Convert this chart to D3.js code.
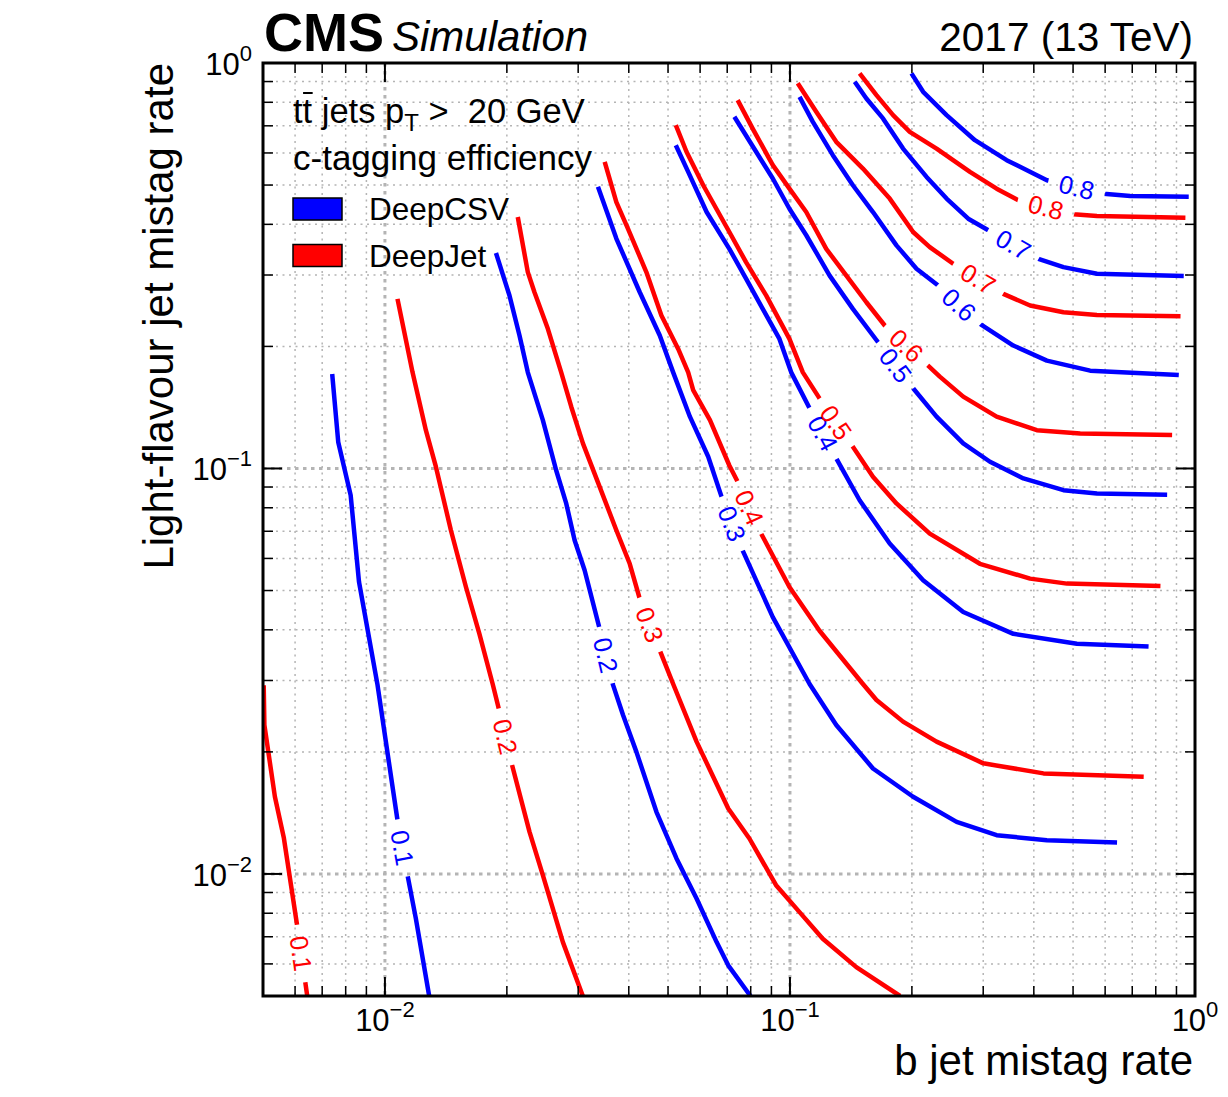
<!DOCTYPE html>
<html>
<head>
<meta charset="utf-8">
<script src="https://cdn.jsdelivr.net/npm/d3@7"></script>
<style>
  body { margin: 0; background: #fff; }
  text { font-family: "Liberation Sans", Arial, Helvetica, sans-serif; white-space: pre; }
</style>
</head>
<body>
<svg id="chart" width="1228" height="1097"></svg>
<script>
// Iso-efficiency contours: [b mistag rate, light mistag rate] along each curve.
const levels = [0.1, 0.2, 0.3, 0.4, 0.5, 0.6, 0.7, 0.8];

const csv01 = [[0.00741,0.171],[0.00767,0.116],[0.00823,0.0859],[0.00863,0.0525],[0.00958,0.0294],[0.01014,0.0200],[0.01074,0.01357],[0.01137,0.00993],[0.01192,0.00777],[0.01286,0.005]];
const csv02 = [[0.0188,0.340],[0.0203,0.267],[0.02149,0.2128],[0.02253,0.1726],[0.02454,0.1316],[0.02647,0.099],[0.02803,0.082],[0.0294,0.0665],[0.03112,0.0561],[0.0339,0.0402],[0.03657,0.02926],[0.03871,0.02466],[0.04177,0.0200],[0.0468,0.01423],[0.05246,0.01092],[0.0588,0.0087],[0.0659,0.00679],[0.0704,0.00595],[0.0799,0.005]];
const csv03 = [[0.03357,0.495],[0.03727,0.369],[0.04258,0.272],[0.04771,0.2128],[0.05148,0.1726],[0.05662,0.1342],[0.06284,0.1069],[0.0678,0.0851],[0.0764,0.0628],[0.0907,0.043],[0.1118,0.0294],[0.1301,0.0233],[0.1603,0.0182],[0.2014,0.0155],[0.2579,0.01344],[0.3238,0.01246],[0.4308,0.01211],[0.642,0.01196]];
const csv04 = [[0.05226,0.627],[0.05607,0.539],[0.06226,0.429],[0.07085,0.348],[0.0779,0.294],[0.08566,0.2475],[0.0942,0.2087],[0.1007,0.1726],[0.1118,0.1407],[0.1301,0.1059],[0.1486,0.0835],[0.1763,0.0653],[0.2132,0.053],[0.2678,0.04425],[0.356,0.0391],[0.511,0.03694],[0.768,0.03638]];
const csv05 = [[0.0729,0.737],[0.0825,0.604],[0.0907,0.519],[0.0997,0.437],[0.1097,0.376],[0.1253,0.299],[0.143,0.2475],[0.165,0.2048],[0.2014,0.1577],[0.2301,0.1342],[0.2678,0.1153],[0.3118,0.1039],[0.377,0.0945],[0.4734,0.0884],[0.5727,0.0867],[0.8535,0.0861]];
const csv06 = [[0.1056,0.825],[0.1139,0.716],[0.1276,0.5925],[0.143,0.4995],[0.1603,0.429],[0.1832,0.355],[0.2053,0.311],[0.2322,0.2828],[0.2945,0.2273],[0.356,0.201],[0.4308,0.1845],[0.551,0.1743],[0.912,0.170]];
const csv07 = [[0.1445,0.899],[0.1544,0.8175],[0.1697,0.730],[0.1902,0.615],[0.2174,0.5236],[0.2436,0.463],[0.2755,0.413],[0.3088,0.3867],[0.4106,0.329],[0.4734,0.3138],[0.5727,0.3021],[0.938,0.2982]];
const csv08 = [[0.1995,0.943],[0.2132,0.849],[0.2436,0.744],[0.2862,0.645],[0.3428,0.576],[0.4308,0.514],[0.5947,0.4762],[0.6922,0.470],[0.965,0.468]];

const jet01 = [[0.00502,0.0292],[0.00504,0.0233],[0.00535,0.0155],[0.00563,0.01226],[0.00607,0.00747],[0.00636,0.0054],[0.00643,0.005]];
const jet02 = [[0.01074,0.262],[0.0117,0.1726],[0.01262,0.1243],[0.01336,0.101],[0.01455,0.0704],[0.01585,0.051],[0.01711,0.0391],[0.01845,0.0294],[0.01909,0.02563],[0.0206,0.01856],[0.02275,0.0127],[0.02454,0.00993],[0.0275,0.00679],[0.0308,0.005]];
const jet03 = [[0.02128,0.417],[0.02253,0.305],[0.0234,0.272],[0.02525,0.221],[0.02724,0.1726],[0.02884,0.142],[0.03082,0.1153],[0.0339,0.0901],[0.03727,0.0704],[0.04022,0.0582],[0.04258,0.0477],[0.04771,0.0356],[0.05148,0.0294],[0.0588,0.0212],[0.0704,0.0145],[0.0794,0.01223],[0.0924,0.00938],[0.1056,0.00805],[0.1205,0.00692],[0.1458,0.00589],[0.187,0.005]];
const jet04 = [[0.03488,0.570],[0.03727,0.454],[0.03983,0.390],[0.0442,0.305],[0.04815,0.2384],[0.05297,0.1971],[0.05607,0.1726],[0.05769,0.1561],[0.06346,0.1316],[0.07085,0.1017],[0.07428,0.0927],[0.08486,0.0691],[0.0997,0.051],[0.1183,0.0398],[0.1514,0.0294],[0.1635,0.02686],[0.1902,0.02375],[0.2301,0.0212],[0.3001,0.01874],[0.4225,0.0177],[0.747,0.01736]];
const jet05 = [[0.05226,0.703],[0.05553,0.604],[0.06107,0.4995],[0.07085,0.383],[0.0779,0.3228],[0.08733,0.2672],[0.0997,0.2087],[0.1076,0.1726],[0.1183,0.1489],[0.143,0.1131],[0.1603,0.0954],[0.1832,0.082],[0.2214,0.0691],[0.2944,0.0582],[0.3916,0.0535],[0.4828,0.052],[0.8217,0.0513]];
const jet06 = [[0.07428,0.810],[0.0809,0.689],[0.0907,0.560],[0.0997,0.490],[0.1097,0.429],[0.1229,0.348],[0.1378,0.299],[0.1544,0.257],[0.1714,0.2252],[0.2193,0.1794],[0.2344,0.1685],[0.2678,0.1504],[0.3238,0.1342],[0.4068,0.1243],[0.5207,0.122],[0.878,0.1209]];
const jet07 = [[0.1045,0.891],[0.1161,0.758],[0.1301,0.639],[0.1514,0.549],[0.1763,0.463],[0.2014,0.383],[0.2214,0.3516],[0.2529,0.3198],[0.3363,0.2696],[0.3916,0.2523],[0.4734,0.2429],[0.5727,0.2392],[0.921,0.2374]];
const jet08 = [[0.1486,0.943],[0.1635,0.8335],[0.1797,0.7437],[0.1976,0.6764],[0.2301,0.6152],[0.2782,0.5387],[0.3238,0.4898],[0.3664,0.4586],[0.5012,0.4236],[0.5727,0.4195],[0.947,0.4155]];

// Where each contour carries its inline level label.
const csvLabelAt = [[0.01105,0.0116],[0.03533,0.0347],[0.072,0.0731],[0.1205,0.122],[0.1823,0.1797],[0.2616,0.2535],[0.356,0.3567],[0.5105,0.4946]];
const jetLabelAt = [[0.00625,0.00637],[0.01984,0.0218],[0.04508,0.0412],[0.0794,0.0801],[0.1301,0.130],[0.1939,0.201],[0.2916,0.2937],[0.4285,0.4407]];

const taggers = ["DeepCSV", "DeepJet"];
const taggerColors = ["#0000ff", "#ff0000"];
const xMajorTicks = [0.01, 0.1, 1];
const yMajorTicks = [1, 0.1, 0.01];
const majorExponents = ["\u22122", "\u22121", "0"];

const csvCurves = [csv01, csv02, csv03, csv04, csv05, csv06, csv07, csv08];
const jetCurves = [jet01, jet02, jet03, jet04, jet05, jet06, jet07, jet08];

// ---------------------------------------------------------------------------
const svg = d3.select("#chart");
const plot = { left: 263, right: 1195, top: 63, bottom: 996 };

const x = d3.scaleLog().domain([0.005, 1]).range([plot.left, plot.right]);
const y = d3.scaleLog().domain([0.005, 1]).range([plot.bottom, plot.top]);

// minor decade steps 2..9 inside the domain
const minorTicks = [];
[-3, -2, -1].forEach(k => {
  for (let m = 2; m <= 9; m++) {
    const v = +(m * Math.pow(10, k)).toPrecision(3);
    if (v > 0.005 && v < 1) minorTicks.push(v);
  }
});

const defs = svg.append("defs");
defs.append("clipPath").attr("id", "plot-clip")
  .append("rect")
  .attr("x", plot.left).attr("y", plot.top)
  .attr("width", plot.right - plot.left).attr("height", plot.bottom - plot.top);

// grid
const grid = svg.append("g").attr("class", "grid");
const gridColor = "#b4b4b4";
grid.selectAll("line.vminor").data(minorTicks).join("line")
  .attr("x1", d => x(d)).attr("x2", d => x(d))
  .attr("y1", plot.top).attr("y2", plot.bottom)
  .attr("stroke", gridColor).attr("stroke-width", 1.5).attr("stroke-dasharray", "2 4.5");
grid.selectAll("line.hminor").data(minorTicks).join("line")
  .attr("y1", d => y(d)).attr("y2", d => y(d))
  .attr("x1", plot.left).attr("x2", plot.right)
  .attr("stroke", gridColor).attr("stroke-width", 1.5).attr("stroke-dasharray", "2 4.5");
grid.selectAll("line.vmajor").data(xMajorTicks.slice(0, 2)).join("line")
  .attr("x1", d => x(d)).attr("x2", d => x(d))
  .attr("y1", plot.top).attr("y2", plot.bottom)
  .attr("stroke", gridColor).attr("stroke-width", 3).attr("stroke-dasharray", "3.5 4.5");
grid.selectAll("line.hmajor").data(yMajorTicks.slice(1)).join("line")
  .attr("y1", d => y(d)).attr("y2", d => y(d))
  .attr("x1", plot.left).attr("x2", plot.right)
  .attr("stroke", gridColor).attr("stroke-width", 3).attr("stroke-dasharray", "3.5 4.5");

// contours
const line = d3.line().x(d => x(d[0])).y(d => y(d[1]));

function placeOnCurve(pts, at) {
  const P = pts.map(d => [x(d[0]), y(d[1])]);
  const L = [x(at[0]), y(at[1])];
  let best = null, bd = Infinity;
  for (let i = 0; i < P.length - 1; i++) {
    const a = P[i], b = P[i + 1];
    const dx = b[0] - a[0], dy = b[1] - a[1];
    const t = Math.max(0, Math.min(1, ((L[0] - a[0]) * dx + (L[1] - a[1]) * dy) / (dx * dx + dy * dy)));
    const px = a[0] + t * dx, py = a[1] + t * dy;
    const dist = Math.hypot(L[0] - px, L[1] - py);
    if (dist < bd) {
      bd = dist;
      let ang = Math.atan2(dy, dx) * 180 / Math.PI;
      if (ang > 90) ang -= 180;
      if (ang < -90) ang += 180;
      best = { x: px, y: py, angle: ang };
    }
  }
  return best;
}

const contourLayer = svg.append("g").attr("clip-path", "url(#plot-clip)");
const labelLayer = svg.append("g");

function drawSet(curves, labelsAt, color, tag) {
  curves.forEach((pts, i) => {
    const pos = placeOnCurve(pts, labelsAt[i]);
    const id = `gap-${tag}-${i}`;
    const mask = defs.append("mask").attr("id", id)
      .attr("maskUnits", "userSpaceOnUse")
      .attr("x", 0).attr("y", 0).attr("width", 1228).attr("height", 1097);
    mask.append("rect").attr("width", 1228).attr("height", 1097).attr("fill", "#fff");
    mask.append("rect")
      .attr("x", -29).attr("y", -16).attr("width", 58).attr("height", 32)
      .attr("transform", `translate(${pos.x},${pos.y}) rotate(${pos.angle})`)
      .attr("fill", "#000");

    contourLayer.append("path")
      .datum(pts)
      .attr("d", line)
      .attr("fill", "none")
      .attr("stroke", color)
      .attr("stroke-width", 4.5)
      .attr("stroke-linejoin", "round")
      .attr("mask", `url(#${id})`);

    labelLayer.append("text")
      .attr("transform", `translate(${pos.x},${pos.y}) rotate(${pos.angle})`)
      .attr("text-anchor", "middle")
      .attr("dy", "0.36em")
      .attr("font-size", 25.5)
      .attr("fill", color)
      .text(levels[i].toFixed(1));
  });
}
drawSet(csvCurves, csvLabelAt, taggerColors[0], "csv");
drawSet(jetCurves, jetLabelAt, taggerColors[1], "jet");

// frame and ticks
const axes = svg.append("g");
const majorLen = 19, minorLen = 10;
function ticksX(vals, len, w) {
  axes.selectAll(null).data(vals).join("line")
    .attr("x1", d => x(d)).attr("x2", d => x(d))
    .attr("y1", plot.bottom).attr("y2", plot.bottom - len)
    .attr("stroke", "#000").attr("stroke-width", w);
  axes.selectAll(null).data(vals).join("line")
    .attr("x1", d => x(d)).attr("x2", d => x(d))
    .attr("y1", plot.top).attr("y2", plot.top + len)
    .attr("stroke", "#000").attr("stroke-width", w);
}
function ticksY(vals, len, w) {
  axes.selectAll(null).data(vals).join("line")
    .attr("y1", d => y(d)).attr("y2", d => y(d))
    .attr("x1", plot.left).attr("x2", plot.left + len)
    .attr("stroke", "#000").attr("stroke-width", w);
  axes.selectAll(null).data(vals).join("line")
    .attr("y1", d => y(d)).attr("y2", d => y(d))
    .attr("x1", plot.right).attr("x2", plot.right - len)
    .attr("stroke", "#000").attr("stroke-width", w);
}
ticksX(minorTicks, minorLen, 1.5);
ticksX(xMajorTicks, majorLen, 2);
ticksY(minorTicks, minorLen, 1.5);
ticksY(yMajorTicks, majorLen, 2);

axes.append("rect")
  .attr("x", plot.left).attr("y", plot.top)
  .attr("width", plot.right - plot.left).attr("height", plot.bottom - plot.top)
  .attr("fill", "none").attr("stroke", "#000").attr("stroke-width", 3);

// tick labels: 10^n
xMajorTicks.forEach((v, i) => {
  const t = axes.append("text")
    .attr("x", x(v)).attr("y", 1031)
    .attr("text-anchor", "middle").attr("font-size", 31);
  t.append("tspan").text("10");
  t.append("tspan").attr("dy", -14).attr("font-size", 22).text(majorExponents[i]);
});
yMajorTicks.forEach((v, i) => {
  const t = axes.append("text")
    .attr("x", 252).attr("y", y(v) + 12)
    .attr("text-anchor", "end").attr("font-size", 31);
  t.append("tspan").text("10");
  t.append("tspan").attr("dy", -14).attr("font-size", 22).text(majorExponents[2 - i]);
});

// axis titles
svg.append("text")
  .attr("x", 1193).attr("y", 1075)
  .attr("text-anchor", "end").attr("font-size", 42)
  .text("b jet mistag rate");
svg.append("text")
  .attr("transform", "translate(173,63) rotate(-90)")
  .attr("text-anchor", "end").attr("font-size", 42)
  .text("Light-flavour jet mistag rate");

// header
svg.append("text")
  .attr("x", 264).attr("y", 51)
  .attr("font-size", 54).attr("font-weight", "bold")
  .text("CMS");
svg.append("text")
  .attr("x", 392).attr("y", 51)
  .attr("font-size", 42).attr("font-style", "italic")
  .text("Simulation");
svg.append("text")
  .attr("x", 1193).attr("y", 51)
  .attr("text-anchor", "end").attr("font-size", 40.5)
  .text("2017 (13 TeV)");

// legend block
const leg = svg.append("g");
const l1 = leg.append("text").attr("x", 293).attr("y", 123).attr("font-size", 34.5);
l1.append("tspan").text("tt jets p");
l1.append("tspan").attr("dy", 8).attr("font-size", 24).text("T");
l1.append("tspan").attr("dy", -8).text(" >  20 GeV");
// anti-top bar over the second t
const n1 = l1.node();
const s2 = n1.getStartPositionOfChar(1);
const w2 = n1.getSubStringLength(1, 1);
leg.append("line")
  .attr("x1", s2.x + 0.5).attr("x2", s2.x + w2 + 0.5)
  .attr("y1", 93).attr("y2", 93)
  .attr("stroke", "#000").attr("stroke-width", 2);

leg.append("text").attr("x", 293).attr("y", 170).attr("font-size", 35)
  .text("c-tagging efficiency");

taggers.forEach((name, i) => {
  const top = 198 + i * 46.5;
  leg.append("rect")
    .attr("x", 293).attr("y", top).attr("width", 49).attr("height", 22)
    .attr("fill", taggerColors[i]).attr("stroke", "#000").attr("stroke-width", 1.5);
  leg.append("text")
    .attr("x", 369).attr("y", top + 22)
    .attr("font-size", 31.5)
    .text(name);
});
</script>
</body>
</html>
